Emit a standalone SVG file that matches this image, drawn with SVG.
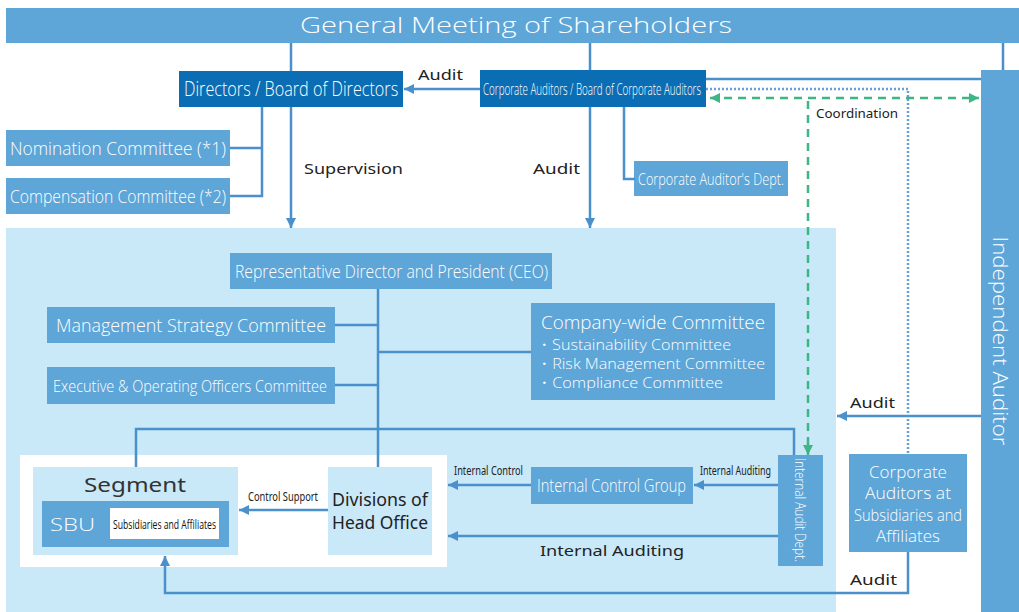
<svg xmlns="http://www.w3.org/2000/svg" width="1019" height="612" viewBox="0 0 1019 612">
<defs>
<marker id="ab" markerUnits="userSpaceOnUse" markerWidth="10" markerHeight="10" refX="10" refY="5" orient="auto"><path d="M0,0 L10,5 L0,10 z" fill="#4a90cb"/></marker>
<marker id="ag" markerUnits="userSpaceOnUse" markerWidth="10" markerHeight="10" refX="10" refY="5" orient="auto"><path d="M0,0 L10,5 L0,10 z" fill="#3db585"/></marker>
<marker id="ags" markerUnits="userSpaceOnUse" markerWidth="10" markerHeight="10" refX="0" refY="5" orient="auto"><path d="M10,0 L0,5 L10,10 z" fill="#3db585"/></marker>
<style>
.med{fill:#5ea5d8}
.dark{fill:#0b6db4}
.lite{fill:#c9e8f8}
.wt{fill:#ffffff}
.bt{fill:#ffffff;font-family:"Open Sans","Noto Sans",sans-serif;font-weight:300}
.lb{fill:#222222;font-family:"Noto Sans","DejaVu Sans",sans-serif}
.ln{fill:none;stroke:#4a90cb;stroke-width:2.5}
.dot{fill:none;stroke:#6a9fd4;stroke-width:2.5;stroke-dasharray:2 2}
.gd{fill:none;stroke:#3db585;stroke-width:2.5;stroke-dasharray:8 6}
</style>
</defs>
<rect width="1019" height="612" fill="#ffffff"/>
<g id="panel"><rect class="lite" x="6" y="228" width="830" height="384"/></g>

<g id="gms"><rect class="med" x="6" y="8" width="1013" height="35"/>
<text class="bt" x="300" y="33" font-size="22" textLength="432" lengthAdjust="spacingAndGlyphs">General Meeting of Shareholders</text></g>

<g id="directors"><rect class="dark" x="179" y="71" width="224" height="36"/>
<text class="bt" transform="translate(184,96) scale(0.84,1)" x="0" y="0" font-size="20" textLength="255" lengthAdjust="spacingAndGlyphs">Directors / Board of Directors</text></g>

<g id="corp-auditors"><rect class="dark" x="480" y="70" width="226" height="37"/>
<text class="bt" x="483" y="95" font-size="16" textLength="218" lengthAdjust="spacingAndGlyphs">Corporate Auditors / Board of Corporate Auditors</text></g>

<g id="nomination"><rect class="med" x="6" y="130" width="224" height="36"/>
<text class="bt" x="10" y="155" font-size="19" textLength="216" lengthAdjust="spacingAndGlyphs">Nomination Committee (*1)</text></g>

<g id="compensation"><rect class="med" x="6" y="178" width="224" height="36"/>
<text class="bt" x="10" y="203" font-size="19" textLength="216" lengthAdjust="spacingAndGlyphs">Compensation Committee (*2)</text></g>

<g id="ca-dept"><rect class="med" x="634" y="161" width="154" height="35"/>
<text class="bt" x="638" y="185" font-size="17" textLength="146" lengthAdjust="spacingAndGlyphs">Corporate Auditor's Dept.</text></g>

<g id="indep"><rect class="med" x="981" y="70" width="38" height="542"/>
<text class="bt" transform="translate(1000,341) rotate(90)" x="0" y="7" font-size="20" text-anchor="middle" textLength="209" lengthAdjust="spacingAndGlyphs">Independent Auditor</text></g>

<g id="ceo"><rect class="med" x="230" y="253" width="322" height="36"/>
<text class="bt" x="235" y="278" font-size="18" textLength="313" lengthAdjust="spacingAndGlyphs">Representative Director and President (CEO)</text></g>

<g id="msc"><rect class="med" x="47" y="307" width="288" height="36"/>
<text class="bt" x="56" y="332" font-size="18" textLength="270" lengthAdjust="spacingAndGlyphs">Management Strategy Committee</text></g>

<g id="eooc"><rect class="med" x="47" y="367" width="288" height="37"/>
<text class="bt" x="53" y="392" font-size="17" textLength="274" lengthAdjust="spacingAndGlyphs">Executive &amp; Operating Officers Committee</text></g>

<g id="cwc"><rect class="med" x="531" y="303" width="244" height="97"/>
<text class="bt" x="541" y="329" font-size="19" textLength="224" lengthAdjust="spacingAndGlyphs">Company-wide Committee</text>
<text class="bt" x="536" y="350" font-size="15" textLength="195" lengthAdjust="spacingAndGlyphs">・Sustainability Committee</text>
<text class="bt" x="536" y="369" font-size="15" textLength="229" lengthAdjust="spacingAndGlyphs">・Risk Management Committee</text>
<text class="bt" x="536" y="388" font-size="15" textLength="187" lengthAdjust="spacingAndGlyphs">・Compliance Committee</text></g>

<g id="icg"><rect class="med" x="531" y="467" width="162" height="37"/>
<text class="bt" x="537" y="492" font-size="18" textLength="149" lengthAdjust="spacingAndGlyphs">Internal Control Group</text></g>

<g id="iad"><rect class="med" x="778" y="455" width="45" height="111"/>
<text class="bt" transform="translate(800,510) rotate(90)" x="0" y="5" font-size="15" text-anchor="middle" textLength="104" lengthAdjust="spacingAndGlyphs">Internal Audit Dept.</text></g>

<g id="casa"><rect class="med" x="849" y="454" width="118" height="98"/>
<text class="bt" x="908" y="478" font-size="17" text-anchor="middle">Corporate</text>
<text class="bt" x="908" y="499" font-size="17" text-anchor="middle" textLength="86" lengthAdjust="spacingAndGlyphs">Auditors at</text>
<text class="bt" x="908" y="521" font-size="17" text-anchor="middle" textLength="108" lengthAdjust="spacingAndGlyphs">Subsidiaries and</text>
<text class="bt" x="908" y="542" font-size="17" text-anchor="middle">Affiliates</text></g>

<g id="group-box"><rect class="wt" x="20" y="455" width="427" height="112"/></g>

<g id="segment"><rect class="lite" x="33" y="467" width="205" height="88"/>
<text x="84" y="492" font-size="20" fill="#333333" font-family="Noto Sans, DejaVu Sans, sans-serif" textLength="102" lengthAdjust="spacingAndGlyphs">Segment</text></g>

<g id="sbu"><rect class="med" x="42" y="501" width="187" height="46"/>
<text class="bt" x="50" y="531" font-size="18" textLength="45" lengthAdjust="spacingAndGlyphs">SBU</text>
<rect class="wt" x="110" y="508" width="109" height="31"/>
<text x="113" y="529" font-size="13" fill="#111111" font-family="Open Sans, Noto Sans, sans-serif" textLength="103" lengthAdjust="spacingAndGlyphs">Subsidiaries and Affiliates</text></g>

<g id="divisions"><rect class="lite" x="328" y="467" width="104" height="88"/>
<text x="380" y="506" font-size="18" fill="#222222" font-family="Noto Sans, DejaVu Sans, sans-serif" text-anchor="middle" textLength="96" lengthAdjust="spacingAndGlyphs">Divisions of</text>
<text x="380" y="529" font-size="18" fill="#222222" font-family="Noto Sans, DejaVu Sans, sans-serif" text-anchor="middle" textLength="96" lengthAdjust="spacingAndGlyphs">Head Office</text></g>

<g id="connectors">
<path class="ln" d="M291,43 V71"/>
<path class="ln" d="M590,43 V70"/>
<path class="ln" d="M1003,43 V70"/>
<path class="ln" d="M480,89 H404" marker-end="url(#ab)"/>
<path class="ln" d="M706,79 H981"/>
<path class="dot" d="M706,89 H908 V454"/>
<path class="gd" d="M710,98 H979" marker-start="url(#ags)" marker-end="url(#ag)"/>
<path class="gd" d="M808,101 V455" marker-end="url(#ag)"/>
<path class="ln" d="M291,107 V228" marker-end="url(#ab)"/>
<path class="ln" d="M590,107 V228" marker-end="url(#ab)"/>
<path class="ln" d="M262,107 V196 H230 M230,148 H262"/>
<path class="ln" d="M624,107 V179 H635"/>
<path class="ln" d="M378,289 V467 M335,325 H378 M335,385 H378 M378,352 H531"/>
<path class="ln" d="M136,467 V429 H794 V455"/>
<path class="ln" d="M778,485 H694" marker-end="url(#ab)"/>
<path class="ln" d="M531,485 H448" marker-end="url(#ab)"/>
<path class="ln" d="M778,536 H448" marker-end="url(#ab)"/>
<path class="ln" d="M328,510 H239" marker-end="url(#ab)"/>
<path class="ln" d="M981,416 H837" marker-end="url(#ab)"/>
<path class="ln" d="M908,552 V593 H165 V556" marker-end="url(#ab)"/>
</g>

<g id="labels">
<text class="lb" x="418" y="80" font-size="15" textLength="45" lengthAdjust="spacingAndGlyphs">Audit</text>
<text class="lb" x="304" y="174" font-size="15" textLength="99" lengthAdjust="spacingAndGlyphs">Supervision</text>
<text class="lb" x="533" y="174" font-size="15" textLength="47" lengthAdjust="spacingAndGlyphs">Audit</text>
<text class="lb" x="816" y="118" font-size="13" textLength="82" lengthAdjust="spacingAndGlyphs">Coordination</text>
<text class="lb" x="850" y="408" font-size="15" textLength="45" lengthAdjust="spacingAndGlyphs">Audit</text>
<text class="lb" x="850" y="585" font-size="15" textLength="47" lengthAdjust="spacingAndGlyphs">Audit</text>
<text class="lb" x="540" y="556" font-size="15" textLength="144" lengthAdjust="spacingAndGlyphs">Internal Auditing</text>
<text class="lb" x="454" y="475" font-size="12" textLength="69" lengthAdjust="spacingAndGlyphs">Internal Control</text>
<text class="lb" x="700" y="475" font-size="12" textLength="71" lengthAdjust="spacingAndGlyphs">Internal Auditing</text>
<text class="lb" x="248" y="501" font-size="12" textLength="70" lengthAdjust="spacingAndGlyphs">Control Support</text>
</g>
</svg>
